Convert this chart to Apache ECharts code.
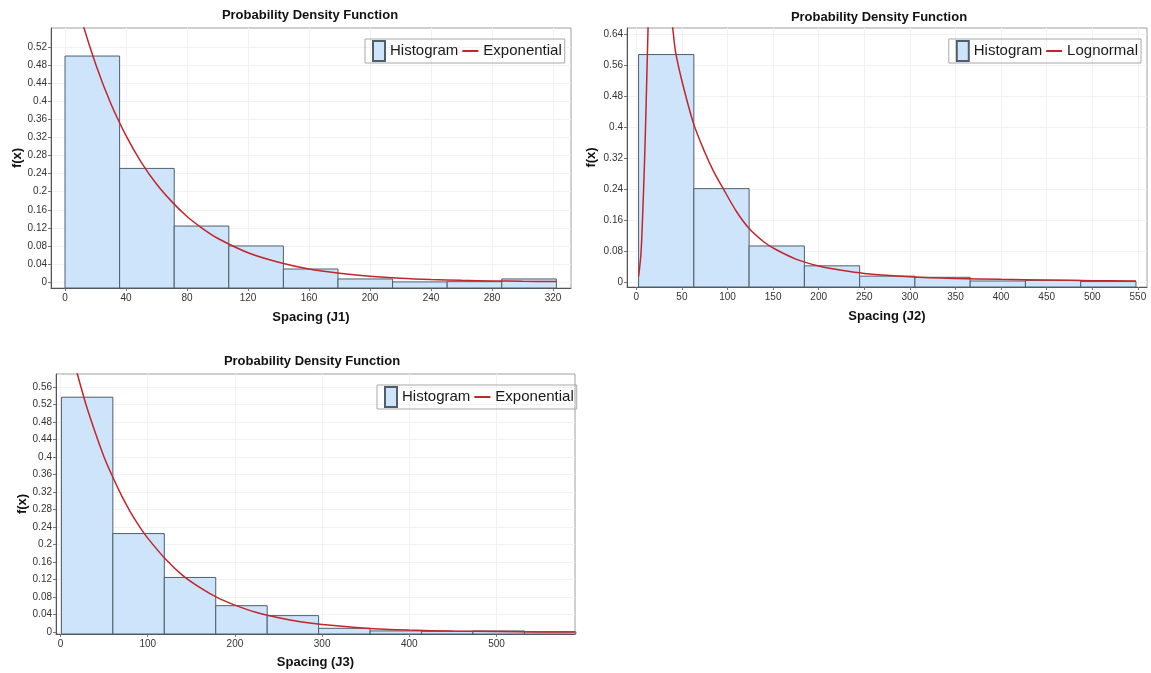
<!DOCTYPE html>
<html>
<head>
<meta charset="utf-8">
<title>Probability Density Function</title>
<script src="https://cdn.jsdelivr.net/npm/echarts@6/dist/echarts.min.js"></script>
<style>
  html, body { margin: 0; padding: 0; background: #fff; }
  #main { width: 1151px; height: 673px; }
</style>
</head>
<body>
<div id="main"></div>
<script>
// J1 - exponential fit
const j1Edges = [0, 35.8, 71.6, 107.4, 143.2, 179, 214.8, 250.6, 286.4, 322.2];
const j1Freq = [0.500, 0.2515, 0.124, 0.080, 0.029, 0.007, 0.0005, 0.001, 0.007];
const j1CurveX = [0, 10, 20, 30, 40, 50, 60, 70, 80, 90, 100, 120, 140, 160, 180, 200, 220, 240, 260, 280, 300, 322];
const j1CurveY = [0.72, 0.59, 0.483, 0.395, 0.324, 0.265, 0.217, 0.178, 0.145, 0.119, 0.097, 0.065, 0.044, 0.029, 0.0197, 0.0132, 0.0088, 0.0059, 0.004, 0.0027, 0.0018, 0.0011];
const j1XTicks = [0, 40, 80, 120, 160, 200, 240, 280, 320];
const j1YTicks = [0, 0.04, 0.08, 0.12, 0.16, 0.2, 0.24, 0.28, 0.32, 0.36, 0.4, 0.44, 0.48, 0.52];

// J2 - lognormal fit
const j2Edges = [2.5, 63.1, 123.7, 184.3, 244.9, 305.5, 366.1, 426.7, 487.3, 547.9];
const j2Freq = [0.5875, 0.2417, 0.0938, 0.0426, 0.016, 0.013, 0.0035, 0.005, 0.002];
const j2CurveX = [2.5, 5, 6.2, 8, 9, 10, 11, 12.5, 15, 20, 25, 30, 35, 40, 43, 50, 62.7, 75, 85, 95, 110, 124, 140, 152, 175, 200, 225, 250, 300, 350, 400, 450, 500, 548];
const j2CurveY = [0.015, 0.07, 0.126, 0.24, 0.31, 0.39, 0.48, 0.62, 0.82, 0.95, 0.93, 0.85, 0.75, 0.655, 0.595, 0.52, 0.41, 0.336, 0.285, 0.243, 0.182, 0.138, 0.104, 0.086, 0.060, 0.042, 0.031, 0.023, 0.0145, 0.010, 0.0077, 0.006, 0.0043, 0.0034];
const j2XTicks = [0, 50, 100, 150, 200, 250, 300, 350, 400, 450, 500, 550];
const j2YTicks = [0, 0.08, 0.16, 0.24, 0.32, 0.4, 0.48, 0.56, 0.64];

// J3 - exponential fit
const j3Edges = [1, 60, 119, 178, 237, 296, 355, 414, 473, 532, 591];
const j3Freq = [0.537, 0.2254, 0.1252, 0.0607, 0.038, 0.009, 0.003, 0.002, 0.003, 0.001];
const j3CurveX = [0, 10, 20, 30, 40, 50, 60, 70, 80, 90, 100, 120, 140, 160, 180, 200, 225, 250, 275, 300, 350, 400, 450, 500, 550, 590];
const j3CurveY = [0.75, 0.66, 0.585, 0.515, 0.455, 0.40, 0.354, 0.312, 0.275, 0.243, 0.215, 0.168, 0.130, 0.102, 0.079, 0.062, 0.045, 0.033, 0.024, 0.0176, 0.0094, 0.005, 0.0027, 0.0015, 0.0008, 0.0005];
const j3XTicks = [0, 100, 200, 300, 400, 500];
const j3YTicks = [0, 0.04, 0.08, 0.12, 0.16, 0.2, 0.24, 0.28, 0.32, 0.36, 0.4, 0.44, 0.48, 0.52, 0.56];

const fontFamily = 'Liberation Sans, Arial, sans-serif';
const barFill = '#cde4fb';
const barEdge = '#505e6c';
const curveColor = '#c0262c';
// legend icons: tall box for the histogram, short bar for the fitted curve
const histIcon = 'path://M0,0 M4,0 H16 V20 H4 Z';
const lineIcon = 'path://M0,0 M0,9 H16 V11 H0 Z M16,20';

const panels = [
  { grid: { left: 51, top: 28, width: 520, height: 260 }, xMin: -9.2, xMax: 331.8, yMin: -0.013, yMax: 0.562,
    xTicks: j1XTicks, yTicks: j1YTicks, edges: j1Edges, freq: j1Freq, cx: j1CurveX, cy: j1CurveY,
    fit: 'Exponential', xName: 'Spacing (J1)', titleX: 310, titleY: 9,
    legendPos: { left: 365, top: 39 }, yNameGap: 27, xNameGap: 23 },
  { grid: { left: 627, top: 28, width: 520, height: 259 }, xMin: -10.2, xMax: 560, yMin: -0.012, yMax: 0.656,
    xTicks: j2XTicks, yTicks: j2YTicks, edges: j2Edges, freq: j2Freq, cx: j2CurveX, cy: j2CurveY,
    fit: 'Lognormal', xName: 'Spacing (J2)', titleX: 879, titleY: 11,
    legendPos: { right: 10, top: 39 }, yNameGap: 29, xNameGap: 23 },
  { grid: { left: 56, top: 374, width: 519, height: 260 }, xMin: -5.2, xMax: 590, yMin: -0.004, yMax: 0.590,
    xTicks: j3XTicks, yTicks: j3YTicks, edges: j3Edges, freq: j3Freq, cx: j3CurveX, cy: j3CurveY,
    fit: 'Exponential', xName: 'Spacing (J3)', titleX: 312, titleY: 355,
    legendPos: { left: 377, top: 385 }, yNameGap: 26, xNameGap: 22 }
];

const option = {
  backgroundColor: '#ffffff',
  animation: false,
  title: [], legend: [], grid: [], xAxis: [], yAxis: [], series: []
};

panels.forEach((p, i) => {
  option.title.push({
    text: 'Probability Density Function',
    left: p.titleX, top: p.titleY, textAlign: 'center', padding: 0,
    textStyle: { fontFamily, fontSize: 13, fontWeight: 'bold', color: '#111' }
  });
  option.legend.push(Object.assign({
    orient: 'horizontal',
    data: [
      { name: 'Histogram', icon: histIcon },
      { name: p.fit, icon: lineIcon, itemStyle: { color: curveColor, borderWidth: 0 } }
    ],
    borderColor: '#a8a8a8', borderWidth: 1, padding: [1, 3],
    itemWidth: 16, itemHeight: 20, itemGap: 4, selectedMode: false,
    textStyle: { fontFamily, fontSize: 15, color: '#1a1a1a' }
  }, p.legendPos));
  option.grid.push(Object.assign({ show: true, borderColor: '#a0a0a0', borderWidth: 1, backgroundColor: '#fff' }, p.grid));
  option.xAxis.push({
    type: 'value', gridIndex: i, min: p.xMin, max: p.xMax,
    name: p.xName, nameLocation: 'middle', nameGap: p.xNameGap,
    nameTextStyle: { fontFamily, fontSize: 13, fontWeight: 'bold', color: '#111' },
    axisLine: { show: true, onZero: false, lineStyle: { color: '#555' } },
    axisTick: { show: true, length: 3, customValues: p.xTicks, lineStyle: { color: '#777' } },
    axisLabel: { customValues: p.xTicks, fontFamily, fontSize: 10, color: '#333', margin: 5 },
    splitLine: { show: true, lineStyle: { color: '#f2f2f2' } }
  });
  option.yAxis.push({
    type: 'value', gridIndex: i, min: p.yMin, max: p.yMax,
    name: 'f(x)', nameLocation: 'middle', nameGap: p.yNameGap, nameRotate: 90,
    nameTextStyle: { fontFamily, fontSize: 13, fontWeight: 'bold', color: '#111' },
    axisLine: { show: true, onZero: false, lineStyle: { color: '#555' } },
    axisTick: { show: true, length: 3, customValues: p.yTicks, lineStyle: { color: '#777' } },
    axisLabel: { customValues: p.yTicks, fontFamily, fontSize: 10, color: '#333', margin: 4 },
    splitLine: { show: true, lineStyle: { color: '#f2f2f2' } }
  });
  const base = p.yMin;
  option.series.push({
    name: 'Histogram', type: 'custom', xAxisIndex: i, yAxisIndex: i,
    itemStyle: { color: barFill, borderColor: barEdge, borderWidth: 1 },
    encode: { x: [0, 1], y: 2 },
    data: p.freq.map((v, k) => [p.edges[k], p.edges[k + 1], v]),
    renderItem: (params, api) => {
      const a = api.coord([api.value(0), api.value(2)]);
      const b = api.coord([api.value(1), base]);
      return {
        type: 'rect',
        shape: { x: a[0], y: a[1], width: b[0] - a[0], height: b[1] - a[1] },
        style: { fill: barFill, stroke: barEdge, lineWidth: 1 }
      };
    },
    z: 2
  });
  option.series.push({
    name: p.fit, type: 'line', xAxisIndex: i, yAxisIndex: i,
    data: p.cx.map((x, k) => [x, p.cy[k]]),
    smooth: 0.3, symbol: 'none', clip: true,
    lineStyle: { color: curveColor, width: 1.5 },
    itemStyle: { color: curveColor },
    z: 3
  });
});

const myChart = echarts.init(document.getElementById('main'));
myChart.setOption(option);
window.addEventListener('resize', () => myChart.resize());
</script>
</body>
</html>
